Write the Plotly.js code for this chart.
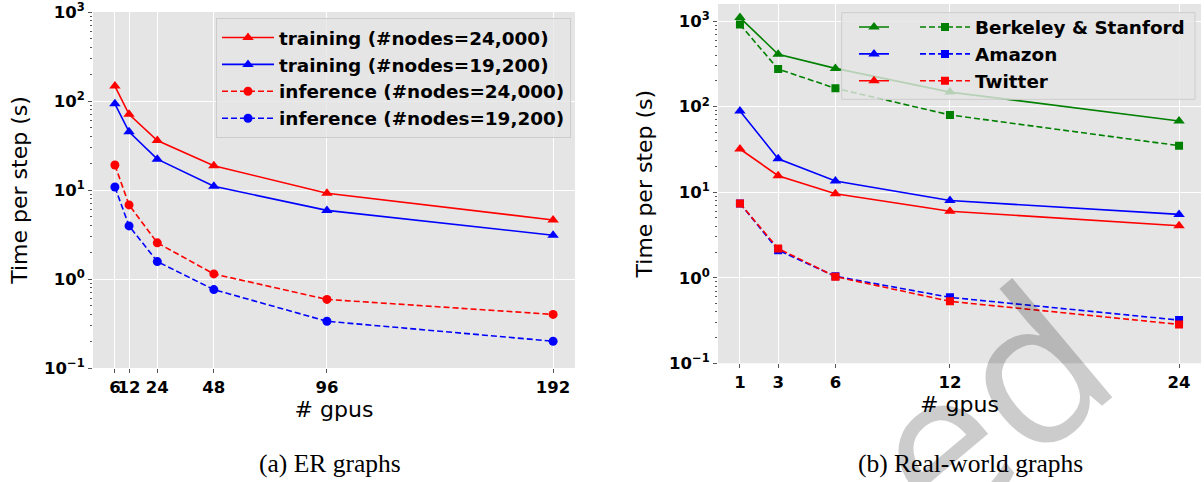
<!DOCTYPE html>
<html>
<head>
<meta charset="utf-8">
<script src="https://cdn.plot.ly/plotly-3.0.1.min.js"></script>
<style>
  html, body { margin: 0; padding: 0; background: #ffffff; }
  #chart { width: 1204px; height: 482px; }
</style>
</head>
<body>
<div id="chart"></div>
<script>
// ---------- Data: (a) ER graphs ----------
const gpusER = [6, 12, 24, 48, 96, 192];
const trainER24000 = [147, 71, 36, 18.7, 9.2, 4.6];
const trainER19200 = [93, 45, 22.2, 11.0, 5.9, 3.1];
const inferER24000 = [19.1, 6.8, 2.55, 1.14, 0.59, 0.40];
const inferER19200 = [10.8, 3.95, 1.57, 0.76, 0.335, 0.20];
const namesER = ["training (#nodes=24,000)", "training (#nodes=19,200)",
                 "inference (#nodes=24,000)", "inference (#nodes=19,200)"];

// ---------- Data: (b) Real-world graphs ----------
const gpusRW = [1, 3, 6, 12, 24];
const trainBS = [1100, 410, 280, 148, 68];
const inferBS = [915, 275, 164, 80, 35];
const trainAmazon = [89, 24.6, 13.5, 8.0, 5.5];
const inferAmazon = [7.4, 2.1, 1.04, 0.59, 0.32];
const trainTwitter = [32, 15.6, 9.6, 6.0, 4.05];
const inferTwitter = [7.4, 2.2, 1.03, 0.53, 0.285];
const namesRW = ["Berkeley & Stanford", "Amazon", "Twitter"];

// ---------- Tick labels ----------
const yTickVals = [0.1, 1, 10, 100, 1000];
const yTickText = ["10<sup>\u22121</sup>", "10<sup>0</sup>", "10<sup>1</sup>", "10<sup>2</sup>", "10<sup>3</sup>"];
const xTickER = [6, 12, 24, 48, 96, 192];
const xTickRW = [1, 3, 6, 12, 24];

// ---------- Styling ----------
const RED = "#ff0000", BLUE = "#0000ff", GREEN = "#008000";
const W = 1204, H = 482;
const px = v => v / W;
const py = v => 1 - v / H;
const tickFont = {family: "DejaVu Sans", size: 16.5, color: "#000000", weight: "bold"};
const titleFont = {family: "DejaVu Sans", size: 22, color: "#000000"};
const legFont = {family: "DejaVu Sans", size: 18.4, color: "#000000", weight: "bold"};
const DASH = "6px,3px";

const minorVals = [];
for (let e = -1; e <= 3; e++) for (let m = 2; m <= 9; m++) minorVals.push(m * Math.pow(10, e));

function line(x, y, name, color, dash, symbol, size, xa, ya, legend, group) {
  return {
    type: "scatter", mode: "lines+markers", x: x, y: y, name: name,
    xaxis: xa, yaxis: ya, legend: legend, legendgroup: group,
    line: {color: color, width: 1.6, dash: dash},
    marker: {color: color, symbol: symbol, size: size},
    hoverinfo: "x+y+name"
  };
}

const data = [
  line(gpusER, trainER24000, namesER[0], RED, "solid", "triangle-up", 10, "x", "y", "legend", "a1"),
  line(gpusER, trainER19200, namesER[1], BLUE, "solid", "triangle-up", 10, "x", "y", "legend", "a2"),
  line(gpusER, inferER24000, namesER[2], RED, DASH, "circle", 9, "x", "y", "legend", "a3"),
  line(gpusER, inferER19200, namesER[3], BLUE, DASH, "circle", 9, "x", "y", "legend", "a4"),

  line(gpusRW, trainBS, " ", GREEN, "solid", "triangle-up", 10, "x2", "y2", "legend2", "b1"),
  line(gpusRW, inferBS, namesRW[0], GREEN, DASH, "square", 8, "x2", "y2", "legend3", "c1"),
  line(gpusRW, trainAmazon, " ", BLUE, "solid", "triangle-up", 10, "x2", "y2", "legend2", "b2"),
  line(gpusRW, inferAmazon, namesRW[1], BLUE, DASH, "square", 8, "x2", "y2", "legend3", "c2"),
  line(gpusRW, trainTwitter, " ", RED, "solid", "triangle-up", 10, "x2", "y2", "legend2", "b3"),
  line(gpusRW, inferTwitter, namesRW[2], RED, DASH, "square", 8, "x2", "y2", "legend3", "c3")
];

function xAxis(domain, range, ticks, anchor) {
  return {
    domain: domain, range: range, anchor: anchor, type: "linear",
    tickmode: "array", tickvals: ticks, ticktext: ticks.map(String), tickangle: 0,
    ticks: "outside", ticklen: 4, tickwidth: 1, tickcolor: "#555555",
    tickfont: tickFont, showgrid: true, gridcolor: "#ffffff", gridwidth: 1,
    zeroline: false, showline: false, fixedrange: true, ticklabeloverflow: "allow",
    title: {text: "# gpus", font: titleFont, standoff: 0}
  };
}
function yAxis(domain, range, anchor) {
  return {
    domain: domain, range: range, anchor: anchor, type: "log",
    tickmode: "array", tickvals: yTickVals, ticktext: yTickText,
    ticks: "outside", ticklen: 4, tickwidth: 1, tickcolor: "#555555",
    tickfont: tickFont, showgrid: true, gridcolor: "#ffffff", gridwidth: 1,
    zeroline: false, showline: false, fixedrange: true, ticklabeloverflow: "allow",
    minor: {tickmode: "array", tickvals: minorVals, ticks: "outside", ticklen: 2,
            tickcolor: "#555555", tickwidth: 1, showgrid: false},
    title: {text: "Time per step (s)", font: titleFont, standoff: 10}
  };
}

const layout = {
  width: W, height: H,
  margin: {l: 0, r: 0, t: 0, b: 0, pad: 0},
  paper_bgcolor: "#ffffff", plot_bgcolor: "#e5e5e5",
  font: {family: "DejaVu Sans", color: "#000000"},
  xaxis: xAxis([px(93), px(575)], [-3.3, 201.3], xTickER, "y"),
  yaxis: yAxis([py(368), py(12)], [-1, 3], "x"),
  xaxis2: xAxis([px(718), px(1201)], [-0.15, 25.15], xTickRW, "y2"),
  yaxis2: yAxis([py(363.3), py(4)], [-1, 3.2], "x2"),
  legend: {
    x: px(216), y: py(18), xanchor: "left", yanchor: "top",
    bgcolor: "rgba(229,229,229,0.8)", bordercolor: "#cccccc", borderwidth: 1,
    font: legFont, traceorder: "grouped", tracegroupgap: 0, itemwidth: 52
  },
  legend2: {
    x: px(854), y: py(8.5), xanchor: "left", yanchor: "top",
    bgcolor: "rgba(0,0,0,0)", borderwidth: 0,
    font: legFont, traceorder: "grouped", tracegroupgap: 0, itemwidth: 30
  },
  legend3: {
    x: px(915), y: py(8.5), xanchor: "left", yanchor: "top",
    bgcolor: "rgba(0,0,0,0)", borderwidth: 0,
    font: legFont, traceorder: "grouped", tracegroupgap: 0, itemwidth: 50
  },
  shapes: [{
    type: "rect", xref: "paper", yref: "paper", layer: "above",
    x0: px(841.7), x1: px(1195), y0: py(99.3), y1: py(12.7),
    fillcolor: "rgba(229,229,229,0.8)", line: {color: "#cccccc", width: 1}
  }],
  annotations: [
    {text: "(a) ER graphs", xref: "paper", yref: "paper", x: px(330), y: py(463),
     xanchor: "center", yanchor: "middle", showarrow: false,
     font: {family: "Liberation Serif", size: 25.5, color: "#000000"}},
    {text: "(b) Real-world graphs", xref: "paper", yref: "paper", x: px(970), y: py(463),
     xanchor: "center", yanchor: "middle", showarrow: false,
     font: {family: "Liberation Serif", size: 25.5, color: "#000000"}},
    {text: "ed", xref: "paper", yref: "paper", x: px(982), y: py(402),
     xanchor: "center", yanchor: "middle", showarrow: false, textangle: -40,
     font: {family: "Open Sans", size: 205, color: "rgba(0,0,0,0.2)"}}
  ],
  showlegend: true,
  hovermode: "closest"
};

Plotly.newPlot("chart", data, layout, {displayModeBar: false, responsive: false});
</script>
</body>
</html>
